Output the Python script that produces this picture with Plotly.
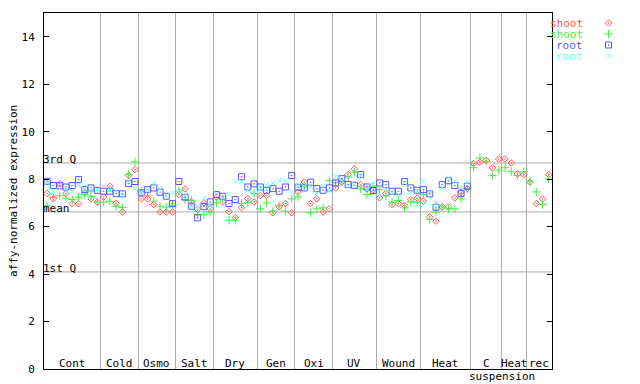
import plotly.graph_objects as go

# ---- data ----
group_labels = ["Cont", "Cold", "Osmo", "Salt", "Dry", "Gen", "Oxi", "UV",
                "Wound", "Heat", "C", "Heat", "rec"]
group_sizes = [9, 6, 6, 6, 7, 6, 6, 7, 7, 8, 5, 4, 4]
sub_label = "suspension"

shoot_1 = [7.40, 7.17, 7.80, 7.39, 6.96, 6.96, 7.42, 7.17, 7.03,
           7.24, 7.70, 6.98, 6.61, 8.16, 8.40,
           7.17, 7.17, 6.93, 6.61, 6.61, 6.61,
           7.35, 7.59, 7.04, 6.73, 7.00, 6.75,
           7.24, 7.04, 6.63, 6.38, 6.80, 7.18, 7.04,
           7.31, 7.31, 6.58, 6.83, 6.97, 6.58,
           7.45, 7.88, 6.97, 7.17, 6.61, 6.75,
           7.63, 7.88, 8.19, 8.43, 7.77, 7.59, 7.55,
           7.21, 7.39, 6.93, 6.97, 6.89, 7.14, 7.20,
           7.07, 6.41, 6.23, 6.83, 6.83, 7.21, 7.45, 7.60,
           8.66, 8.71, 8.79, 8.47, 8.85,
           8.85, 8.68, 8.22, 8.19,
           7.87, 6.97, 7.17, 8.19]
shoot_2 = [6.88, 7.22, 7.30, 7.20, 7.14, 7.24, 7.35, 7.28, 7.03,
           7.03, 7.07, 6.86, 6.80, 8.20, 8.73,
           7.49, 7.30, 7.07, 6.86, 6.82, 6.90,
           7.50, 7.14, 7.10, 6.52, 6.50, 6.60,
           7.00, 7.15, 6.27, 6.27, 6.97, 7.00, 7.40,
           6.75, 7.00, 6.65, 6.88, 6.65, 7.17,
           7.25, 7.70, 6.58, 6.75, 6.79, 7.93,
           7.85, 7.90, 8.09, 8.29, 7.59, 7.35, 7.70,
           7.56, 7.30, 7.03, 7.10, 6.79, 7.03, 7.03,
           7.35, 6.30, 6.61, 6.83, 6.75, 6.75, 7.17, 7.60,
           8.48, 8.89, 8.75, 8.15, 8.38,
           8.48, 8.31, 8.15, 8.31,
           7.91, 7.46, 6.93, 8.01]
root_1 = [7.91, 7.73, 7.72, 7.67, 7.73, 7.98, 7.56, 7.63, 7.53,
          7.49, 7.49, 7.39, 7.38, 7.81, 7.90,
          7.42, 7.56, 7.63, 7.45, 7.28, 6.97,
          7.90, 7.24, 6.86, 6.37, 6.84, 7.04,
          7.35, 7.28, 6.97, 7.14, 8.10, 7.67, 7.80,
          7.67, 7.53, 7.60, 7.49, 7.67, 8.15,
          7.66, 7.63, 7.87, 7.60, 7.53, 7.63,
          7.84, 8.02, 7.77, 7.74, 8.19, 7.67, 7.52,
          7.84, 7.77, 7.49, 7.49, 7.90, 7.63, 7.53,
          7.56, 7.38, 6.82, 7.77, 7.93, 7.73, 7.39, 7.70] + [None] * 13
root_2 = [7.85, 7.49, 7.60, 7.60, 7.49, 7.75, 7.60, 7.60, 7.55,
          7.70, 7.55, 7.49, 7.30, 7.91, 7.60,
          7.42, 7.50, 7.84, 7.60, 7.30, 7.42,
          7.50, 7.30, 6.86, 6.85, 7.17, 6.93,
          7.38, 7.20, 7.35, 7.90, 7.90, 7.53, 7.42,
          7.60, 7.77, 7.84, 7.93, 7.93, 7.45,
          7.70, 7.70, 7.66, 7.42, 7.69, 7.50,
          8.12, 7.95, 7.69, 7.76, 8.12, 7.56, 7.77,
          7.70, 7.58, 7.40, 7.35, 7.84, 7.45, 7.50,
          7.91, 7.45, 7.03, 7.63, 8.05, 7.91, 7.63, 7.88] + [None] * 13

series_names = ["shoot", "shoot", "root", "root"]
series_values = [shoot_1, shoot_2, root_1, root_2]
series_colors = ["#ff5555", "#44ee44", "#5555ff", "#66ffff"]
series_symbols = ["diamond-open-dot", "cross-thin-open", "square-open-dot", "x-thin-open"]
series_sizes = [5, 6, 6, 5]

stat_labels = ["3rd Q", "mean", "1st Q"]
stat_values = [8.68, 6.62, 4.09]

y_ticks = [0, 2, 4, 6, 8, 10, 12, 14]

# ---- derived ----
n = sum(group_sizes)
x = list(range(1, n + 1))
bounds = []
centers = []
acc = 0
for s in group_sizes:
    centers.append(acc + 0.5 + s / 2)
    acc += s
    bounds.append(acc + 0.5)
bounds = bounds[:-1]

FONT = "DejaVu Sans Mono"
# the page adds an 8px body margin; compensate so the plot lands where the reference has it
OFF = 8
W, H = 640 - OFF, 384 - OFF
ml, mr, mt, mb = 44 - OFF, 0, 13 - OFF, 15
pw = W - ml - mr
plot_w = 508
main_dom = plot_w / pw
plot_h = H - mt - mb

fig = go.Figure()
for name, vals, col, sym, sz in zip(series_names, series_values, series_colors,
                                     series_symbols, series_sizes):
    fig.add_trace(go.Scatter(
        x=x, y=vals, mode="markers", name=name, showlegend=False,
        marker=dict(symbol=sym, size=sz, color=col, line=dict(width=1, color=col)),
        xaxis="x", yaxis="y", cliponaxis=False))

# custom legend: markers on an auxiliary axis, text as annotations
rows = list(range(len(series_names)))
for r, col, sym, sz in zip(rows, series_colors, series_symbols, series_sizes):
    fig.add_trace(go.Scatter(
        x=[0.63], y=[r], mode="markers", showlegend=False, hoverinfo="skip",
        marker=dict(symbol=sym, size=sz, color=col, line=dict(width=1, color=col)),
        xaxis="x2", yaxis="y2"))

annotations = []
for r, name, col in zip(rows, series_names, series_colors):
    annotations.append(dict(
        text=name, x=0.35, y=r, xref="x2", yref="y2", xanchor="right",
        yanchor="middle", showarrow=False, height=9,
        font=dict(family=FONT, size=11, color=col)))

for lab, c in zip(group_labels, centers):
    annotations.append(dict(
        text=lab, x=c, y=0, xref="x", yref="paper", xanchor="center",
        yanchor="bottom", showarrow=False, yshift=-2, height=11,
        font=dict(family=FONT, size=11, color="black")))
annotations.append(dict(
    text=sub_label, x=bounds[10], y=0, xref="x", yref="paper", xanchor="center",
    yanchor="top", showarrow=False, yshift=0, height=11,
    font=dict(family=FONT, size=11, color="black")))

shapes = []
for lab, v in zip(stat_labels, stat_values):
    shapes.append(dict(type="line", xref="x domain", x0=0, x1=1, yref="y",
                       y0=v, y1=v, line=dict(color="#aaaaaa", width=1), layer="below"))
    annotations.append(dict(
        text=lab, x=0.5, y=v, xref="x", yref="y", xanchor="left",
        yanchor="bottom", showarrow=False, yshift=-5, xshift=-3,
        font=dict(family=FONT, size=11, color="black")))

annotations.append(dict(
    text="affy-normalized expression", textangle=-90, x=-(44 - 13) / pw, y=0.5,
    xref="paper", yref="paper", xanchor="center", yanchor="middle", showarrow=False,
    font=dict(family=FONT, size=11, color="black")))

# legend axis range so that row r sits at page pixel 23 + 11 r
top_val = (13 - 23) / 11
bot_val = (13 + plot_h - 23) / 11

fig.update_layout(
    width=W, height=H,
    margin=dict(l=ml, r=mr, t=mt, b=mb, pad=0),
    paper_bgcolor="white", plot_bgcolor="white",
    font=dict(family=FONT, size=11, color="black"),
    xaxis=dict(domain=[0, main_dom], range=[0.5, n + 0.5], tickvals=bounds,
               showticklabels=False, ticks="", showgrid=True,
               gridcolor="#aaaaaa", gridwidth=1, zeroline=False,
               showline=True, linecolor="black", linewidth=1, mirror=True),
    yaxis=dict(range=[0, 15], tickvals=y_ticks, ticks="inside", ticklen=5,
               tickcolor="black", showgrid=False, zeroline=False,
               showline=True, linecolor="black", linewidth=1, mirror="ticks",
               ticklabelstandoff=6, automargin=False,
               tickfont=dict(family=FONT, size=11, color="black")),
    xaxis2=dict(domain=[main_dom + 0.005, 1], range=[0, 1], visible=False,
                anchor="y2"),
    yaxis2=dict(domain=[0, 1], range=[bot_val, top_val], visible=False,
                anchor="x2"),
    annotations=annotations, shapes=shapes,
    showlegend=False,
)

fig.write_html("out.html")
